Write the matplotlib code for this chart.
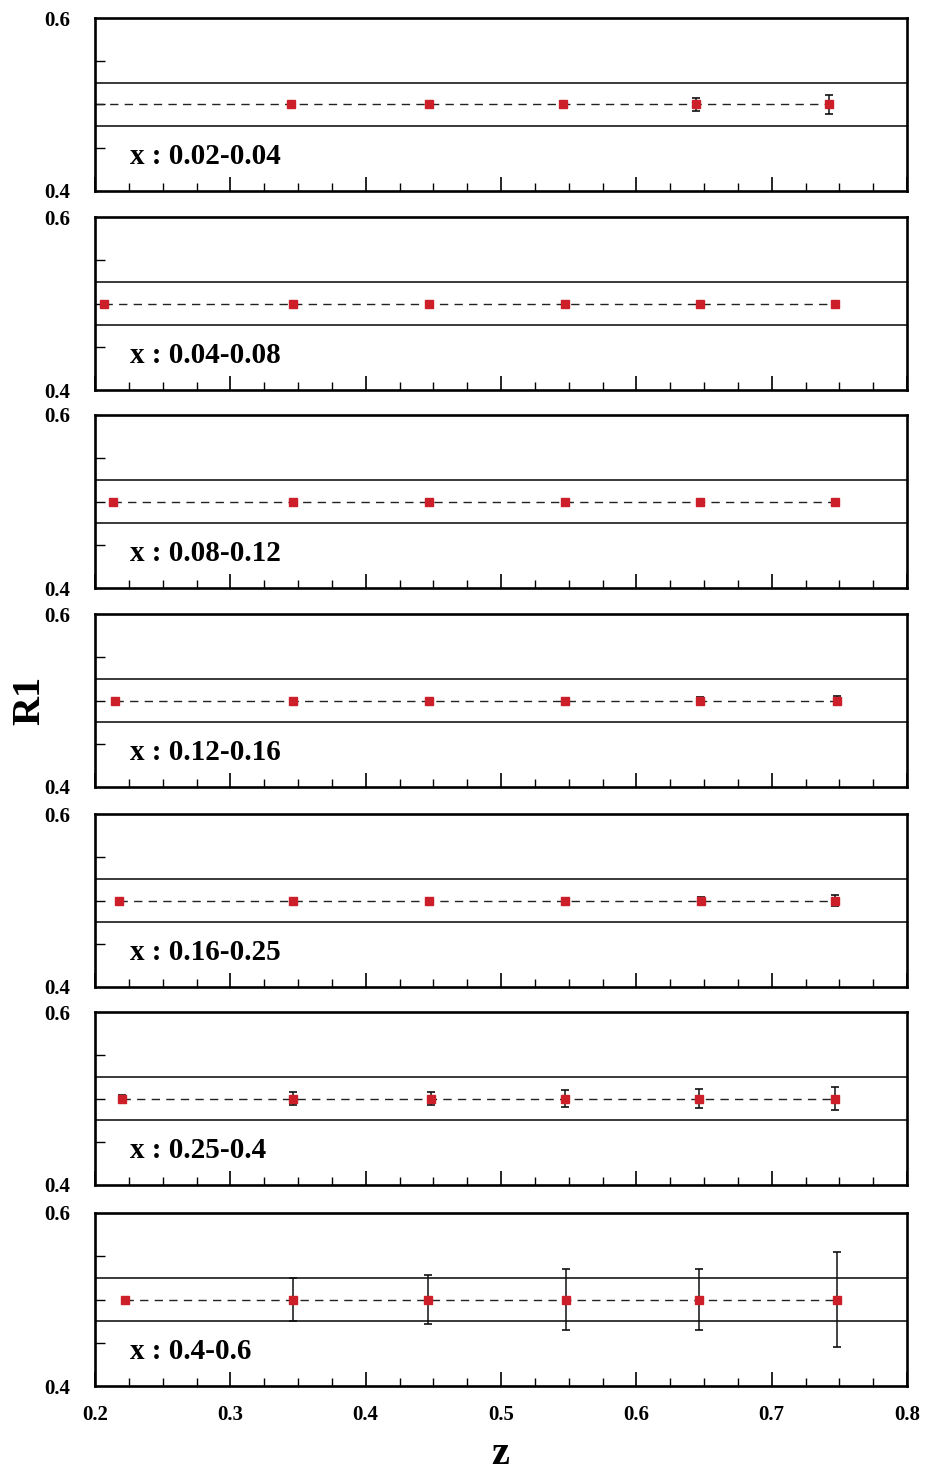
import matplotlib
matplotlib.use("Agg")
import matplotlib.pyplot as plt
from matplotlib.ticker import MultipleLocator, FixedLocator, FuncFormatter

plt.rcParams['font.family'] = ['Liberation Serif', 'DejaVu Serif']
plt.rcParams['font.weight'] = 'bold'

labels = ["x : 0.02-0.04", "x : 0.04-0.08", "x : 0.08-0.12", "x : 0.12-0.16",
          "x : 0.16-0.25", "x : 0.25-0.4", "x : 0.4-0.6"]

z1 = [0.345, 0.447, 0.546, 0.644, 0.742]
z2 = [0.207, 0.346, 0.447, 0.547, 0.647, 0.747]
z3 = [0.213, 0.346, 0.447, 0.547, 0.647, 0.747]
z4 = [0.215, 0.346, 0.447, 0.547, 0.647, 0.748]
z5 = [0.218, 0.346, 0.447, 0.547, 0.648, 0.747]
z6 = [0.220, 0.346, 0.448, 0.547, 0.646, 0.747]
z7 = [0.222, 0.346, 0.446, 0.548, 0.646, 0.748]

r1 = [0.5, 0.5, 0.5, 0.5, 0.5]
r2 = [0.5, 0.5, 0.5, 0.5, 0.5, 0.5]
r3 = [0.5, 0.5, 0.5, 0.5, 0.5, 0.5]
r4 = [0.5, 0.5, 0.5, 0.5, 0.5, 0.5]
r5 = [0.5, 0.5, 0.5, 0.5, 0.5, 0.5]
r6 = [0.5, 0.5, 0.5, 0.5, 0.5, 0.5]
r7 = [0.5, 0.5, 0.5, 0.5, 0.5, 0.5]

e1 = [0.0015, 0.002, 0.004, 0.0075, 0.0105]
e2 = [0.001, 0.002, 0.001, 0.001, 0.0015, 0.0015]
e3 = [0.001, 0.001, 0.001, 0.001, 0.001, 0.001]
e4 = [0.001, 0.0015, 0.002, 0.003, 0.004, 0.005]
e5 = [0.001, 0.002, 0.003, 0.003, 0.004, 0.006]
e6 = [0.0045, 0.007, 0.008, 0.0103, 0.011, 0.0137]
e7 = [0.001, 0.0254, 0.0283, 0.035, 0.035, 0.055]

# start of the dashed guide line in each panel
dash_start = [0.200, 0.207, 0.213, 0.215, 0.218, 0.220, 0.222]

band_hi = 0.525
band_lo = 0.475
ref_val = 0.5

zs = [z1, z2, z3, z4, z5, z6, z7]
rs = [r1, r2, r3, r4, r5, r6, r7]
es = [e1, e2, e3, e4, e5, e6, e7]

W, H = 925, 1471
fig = plt.figure(figsize=(W / 100, H / 100), dpi=100)

left_px, right_px = 95, 907
tops = [18, 217, 415, 614, 814, 1012, 1213]
ph = 173

fmt1 = FuncFormatter(lambda v, p: f"{v:.1f}")

for i in range(7):
    top = tops[i]
    ax = fig.add_axes([left_px / W, 1 - (top + ph) / H, (right_px - left_px) / W, ph / H])
    ax.set_xlim(0.2, 0.8)
    ax.set_ylim(0.4, 0.6)
    for s in ax.spines.values():
        s.set_linewidth(1.9)
        s.set_color('black')
    ax.axhline(band_hi, color='#2a2a2a', lw=1.3, zorder=1)
    ax.axhline(band_lo, color='#2a2a2a', lw=1.3, zorder=1)
    zz = [dash_start[i]] + zs[i]
    rr = [ref_val] + rs[i]
    ax.plot(zz, rr, ls=(0, (6, 4.5)), color='#222222', lw=1.0, zorder=2)
    ax.errorbar(zs[i], rs[i], yerr=es[i], fmt='s', ms=6, mfc='#cc1f2a', mec='#cc1f2a',
                ecolor='#111111', elinewidth=1.1, capsize=3, capthick=1.2, zorder=3)
    ax.text(0.043, 0.2, labels[i], transform=ax.transAxes, fontsize=21,
            fontweight='bold', va='center', ha='left')

    ax.xaxis.set_major_locator(MultipleLocator(0.1))
    ax.xaxis.set_minor_locator(MultipleLocator(0.025))
    ax.yaxis.set_major_locator(FixedLocator([0.4, 0.6]))
    ax.yaxis.set_minor_locator(FixedLocator([0.45, 0.5, 0.55]))
    ax.tick_params(axis='x', which='major', direction='in', length=10, width=1.2,
                   top=False, bottom=True, labelbottom=(i == 6), labelsize=15, pad=14)
    ax.tick_params(axis='x', which='minor', direction='in', length=6, width=1.0,
                   top=False, bottom=True)
    ax.tick_params(axis='y', which='major', direction='in', length=0, left=True,
                   right=False, labelsize=15, pad=18)
    ax.tick_params(axis='y', which='minor', direction='in', length=7, width=1.0,
                   left=True, right=False)
    ax.yaxis.set_major_formatter(fmt1)
    ax.xaxis.set_major_formatter(fmt1)
    for t in ax.get_xticklabels() + ax.get_yticklabels():
        t.set_fontweight('bold')

fig.text(500 / W, 1 - 1455 / H, "z", fontsize=29, fontweight='bold', ha='center', va='center')
fig.text(30 / W, 1 - 700 / H, "R1", fontsize=29, fontweight='bold', ha='center', va='center',
         rotation=90)

fig.savefig("out.png", dpi=100)
